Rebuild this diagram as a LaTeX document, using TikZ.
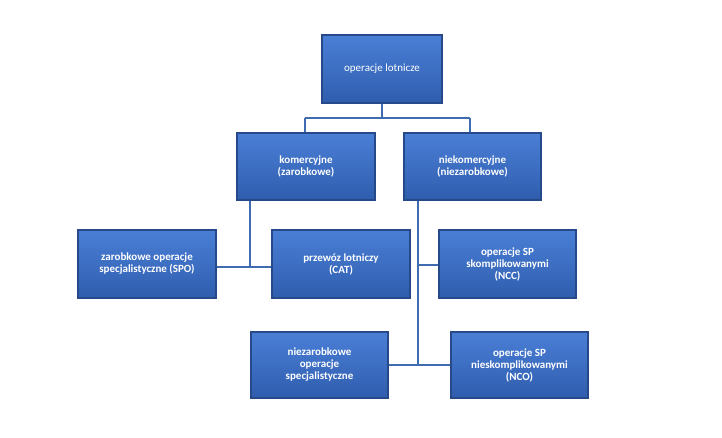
\documentclass[tikz,border=0pt]{standalone}
\usepackage{fontspec}
\setmainfont{Carlito}
\definecolor{bA}{HTML}{4A7FD6}
\definecolor{bB}{HTML}{2F5DAE}
\definecolor{bE}{HTML}{26498A}
\definecolor{ln}{HTML}{3F6CB0}
\begin{document}
\begin{tikzpicture}[x=1pt,y=-1pt,
 boxx/.style={draw=bE,line width=1.2pt,top color=bA,bottom color=bB,text=white,font=\bfseries\fontsize{11}{12}\selectfont,align=center,inner sep=0pt},
 conn/.style={draw=ln,line width=2pt}]
\useasboundingbox[fill=white] (0,0) rectangle (722,437);
\newcommand\bx[6]{\node[boxx,minimum width=#4-#2,minimum height=#5-#3] (#1) at ({(#2+#4)/2},{(#3+#5)/2}) {#6};}
\bx{top}{322}{35}{442}{103}{\mdseries operacje lotnicze}
\bx{kom}{237}{133}{375}{200}{komercyjne\\(zarobkowe)}
\bx{nie}{404}{133}{541}{200}{niekomercyjne\\(niezarobkowe)}
\bx{spo}{78}{230}{216}{298}{zarobkowe operacje\\specjalistyczne (SPO)}
\bx{cat}{272}{230}{410}{298}{przewóz lotniczy\\(CAT)}
\bx{ncc}{439}{230}{576}{298}{operacje SP\\skomplikowanymi\\(NCC)}
\bx{nsp}{251}{332}{388}{398}{niezarobkowe\\operacje\\specjalistyczne}
\bx{nco}{451}{332}{588}{398}{operacje SP\\nieskomplikowanymi\\(NCO)}
\coordinate (j1) at (382,118);
\coordinate (j2) at (305,118);
\coordinate (j3) at (470,118);
\coordinate (k1) at (250,267);
\coordinate (n1) at (418,265);
\coordinate (n2) at (418,365);
\draw[conn] (top.south) -- (j1) (j2) -- (j3);
\draw[conn] (j2) -- (j2 |- kom.north);
\draw[conn] (j3) -- (j3 |- nie.north);
\draw[conn] (k1 |- kom.south) -- (k1);
\draw[conn] (spo.east |- k1) -- (cat.west |- k1);
\draw[conn] (n1 |- nie.south) -- (n2);
\draw[conn] (n1) -- (ncc.west |- n1);
\draw[conn] (nsp.east |- n2) -- (nco.west |- n2);
\end{tikzpicture}
\end{document}
